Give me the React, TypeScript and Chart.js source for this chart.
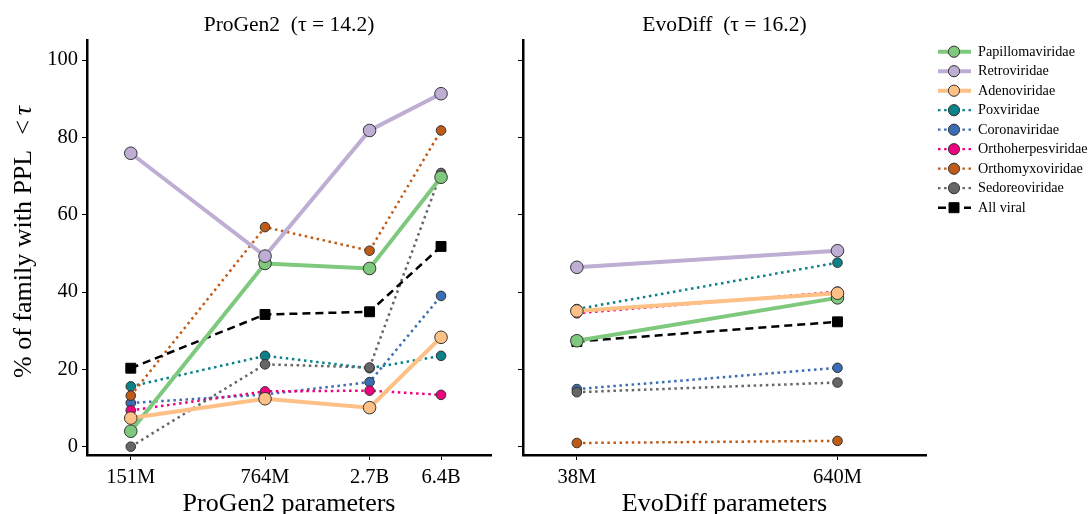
import React, { useEffect, useRef } from 'react';
import { Chart, registerables } from 'chart.js';
Chart.register(...registerables);

// ---------- data ----------
const families = [
  'Papillomaviridae', 'Retroviridae', 'Adenoviridae', 'Poxviridae', 'Coronaviridae',
  'Orthoherpesviridae', 'Orthomyxoviridae', 'Sedoreoviridae', 'All viral',
];
const familyColors = ['#7fc97f', '#beaed4', '#fdc086', '#0b8189', '#3a6db4', '#f0027f', '#bf5b17', '#666666', '#000000'];
const familyStyles = ['solid', 'solid', 'solid', 'dotted', 'dotted', 'dotted', 'dotted', 'dotted', 'dashed'];
const drawOrder = [2, 1, 0, 8, 7, 6, 5, 4, 3];

const progenParams = [1.51e8, 7.64e8, 2.7e9, 6.4e9];
const progenTickLabels = ['151M', '764M', '2.7B', '6.4B'];
const evodiffParams = [3.8e7, 6.4e8];
const evodiffTickLabels = ['38M', '640M'];
const yTicks = [0, 20, 40, 60, 80, 100];

const progenPapilloma = [4.0, 47.4, 46.1, 69.7];
const progenRetro = [75.9, 49.3, 81.8, 91.3];
const progenAdeno = [7.4, 12.4, 10.1, 28.3];
const progenPox = [15.6, 23.5, 20.3, 23.5];
const progenCorona = [11.3, 13.5, 16.7, 39.0];
const progenOrthoherpes = [9.4, 14.3, 14.5, 13.4];
const progenOrthomyxo = [13.2, 56.8, 50.7, 81.8];
const progenSedoreo = [0.0, 21.3, 20.5, 70.8];
const progenAllViral = [20.3, 34.2, 34.9, 51.8];

const evodiffPapilloma = [27.4, 38.5];
const evodiffRetro = [46.4, 50.7];
const evodiffAdeno = [35.1, 39.7];
const evodiffPox = [35.6, 47.6];
const evodiffCorona = [14.9, 20.4];
const evodiffOrthoherpes = [34.5, 40.1];
const evodiffOrthomyxo = [0.95, 1.5];
const evodiffSedoreo = [14.1, 16.6];
const evodiffAllViral = [27.2, 32.3];

const progenSeries = [progenPapilloma, progenRetro, progenAdeno, progenPox, progenCorona, progenOrthoherpes, progenOrthomyxo, progenSedoreo, progenAllViral];
const evodiffSeries = [evodiffPapilloma, evodiffRetro, evodiffAdeno, evodiffPox, evodiffCorona, evodiffOrthoherpes, evodiffOrthomyxo, evodiffSedoreo, evodiffAllViral];

// ---------- styling ----------
const FONT = '"Liberation Serif", "DejaVu Serif", serif';
const Y_MIN = -2.15;
const Y_MAX = 105.2;

function styleFor(i: number) {
  const st = familyStyles[i];
  if (st === 'solid') return { borderWidth: 4, borderDash: [] as number[], pointRadius: 6.3, pointStyle: 'circle', legendW: 4 };
  if (st === 'dotted') return { borderWidth: 2.5, borderDash: [2.5, 3.6], pointRadius: 4.8, pointStyle: 'circle', legendW: 2.2 };
  return { borderWidth: 2.5, borderDash: [8, 5], pointRadius: 7, pointStyle: 'rect', legendW: 2.5 };
}

function buildDatasets(params: number[], series: number[][]) {
  return series.map((vals, i) => {
    const s = styleFor(i);
    return {
      label: families[i],
      data: vals.map((v, j) => ({ x: params[j], y: v })),
      borderColor: familyColors[i],
      backgroundColor: familyColors[i],
      borderWidth: s.borderWidth,
      borderDash: s.borderDash,
      borderCapStyle: 'butt',
      tension: 0,
      pointRadius: s.pointRadius,
      pointHoverRadius: s.pointRadius,
      pointStyle: s.pointStyle,
      pointBackgroundColor: familyColors[i],
      pointBorderColor: i === 8 ? '#000' : '#333333',
      pointBorderWidth: 1,
      order: drawOrder[i],
      clip: false,
    };
  });
}

function drawYTitle(ctx: CanvasRenderingContext2D, cx: number, bottomY: number) {
  const parts = [
    { t: '% of family with PPL', f: `26px ${FONT}`, gap: 15 },
    { t: '<', f: `26px ${FONT}`, gap: 5 },
    { t: 'τ', f: `italic 26px ${FONT}`, gap: 0 },
  ];
  ctx.save();
  ctx.translate(cx, bottomY);
  ctx.rotate(-Math.PI / 2);
  let x = 0;
  ctx.textAlign = 'left';
  ctx.textBaseline = 'middle';
  ctx.fillStyle = '#000';
  parts.forEach((p) => { ctx.font = p.f; ctx.fillText(p.t, x, 0); x += ctx.measureText(p.t).width + p.gap; });
  ctx.restore();
}

function drawLegend(ctx: CanvasRenderingContext2D, offsetX: number) {
  ctx.save();
  families.forEach((name, i) => {
    const y = 51.7 + i * 19.5;
    const s = styleFor(i);
    const x0 = 938 - offsetX;
    const x1 = 971 - offsetX;
    const mx = 954 - offsetX;
    ctx.beginPath();
    ctx.strokeStyle = familyColors[i];
    ctx.lineWidth = s.legendW;
    ctx.lineCap = 'butt';
    ctx.setLineDash(s.borderDash);
    ctx.moveTo(x0, y);
    ctx.lineTo(x1, y);
    ctx.stroke();
    ctx.setLineDash([]);
    ctx.fillStyle = familyColors[i];
    ctx.strokeStyle = i === 8 ? '#000' : '#333333';
    ctx.lineWidth = 1;
    ctx.beginPath();
    if (s.pointStyle === 'rect') {
      ctx.rect(mx - 5, y - 5, 10, 10);
    } else {
      ctx.arc(mx, y, 5.6, 0, Math.PI * 2);
    }
    ctx.fill();
    ctx.stroke();
    ctx.fillStyle = '#000';
    ctx.font = `14.2px ${FONT}`;
    ctx.textAlign = 'left';
    ctx.textBaseline = 'middle';
    ctx.fillText(name, 978 - offsetX, y + 0.5);
  });
  ctx.restore();
}

function makeConfig(opts: {
  params: number[]; tickLabels: string[]; series: number[][];
  xMin: number; xMax: number; yAxisWidth: number; padRight: number;
  showYLabels: boolean; title: string; xTitle: string; offsetX: number; legend: boolean;
}) {
  const textPlugin = {
    id: 'panelTexts',
    afterDraw(chart: any) {
      const { ctx, chartArea } = chart;
      const cx = (chartArea.left + chartArea.right) / 2;
      ctx.save();
      ctx.fillStyle = '#000';
      ctx.textAlign = 'center';
      ctx.textBaseline = 'middle';
      ctx.font = `21.5px ${FONT}`;
      ctx.fillText(opts.title, cx, 25);
      ctx.font = `26px ${FONT}`;
      ctx.fillText(opts.xTitle, cx, 504);
      ctx.restore();
      if (opts.showYLabels) drawYTitle(ctx, 24, 378);
      if (opts.legend) drawLegend(ctx, opts.offsetX);
    },
  };
  return {
    type: 'line',
    data: { datasets: buildDatasets(opts.params, opts.series) },
    plugins: [textPlugin],
    options: {
      responsive: false,
      animation: false,
      devicePixelRatio: 1,
      layout: { padding: { left: 0, right: opts.padRight, top: 40, bottom: 0 } },
      plugins: { legend: { display: false }, title: { display: false }, tooltip: { enabled: false } },
      scales: {
        x: {
          type: 'logarithmic',
          min: opts.xMin,
          max: opts.xMax,
          afterBuildTicks: (s: any) => { s.ticks = opts.params.map((v) => ({ value: v })); },
          afterFit: (s: any) => { s.height = 59; },
          border: { display: true, color: '#000', width: 2.5 },
          grid: { display: true, drawOnChartArea: false, drawTicks: true, tickLength: 5, tickColor: '#000', tickWidth: 1 },
          ticks: {
            autoSkip: false, maxRotation: 0, minRotation: 0, padding: 5, color: '#000',
            font: { family: FONT, size: 20.5 },
            callback: (_v: any, i: number) => opts.tickLabels[i],
          },
        },
        y: {
          type: 'linear',
          min: Y_MIN,
          max: Y_MAX,
          afterBuildTicks: (s: any) => { s.ticks = yTicks.map((v) => ({ value: v })); },
          afterFit: (s: any) => { s.width = opts.yAxisWidth; },
          border: { display: true, color: '#000', width: 2.5 },
          grid: { display: true, drawOnChartArea: false, drawTicks: true, tickLength: 5, tickColor: '#000', tickWidth: 1 },
          ticks: {
            padding: 4, color: '#000',
            font: { family: FONT, size: 20.5 },
            callback: (v: any) => (opts.showYLabels ? String(v) : ''),
          },
        },
      },
    },
  };
}

function Panel(props: { left: number; width: number; cfg: any }) {
  const ref = useRef<HTMLCanvasElement | null>(null);
  useEffect(() => {
    if (!ref.current) return;
    const chart = new Chart(ref.current, props.cfg);
    return () => chart.destroy();
  }, []);
  return (
    <canvas
      ref={ref}
      width={props.width}
      height={514}
      style={{ position: 'absolute', left: props.left, top: 0, width: props.width, height: 514 }}
    />
  );
}

export default function App() {
  const leftCfg = makeConfig({
    params: progenParams, tickLabels: progenTickLabels, series: progenSeries,
    xMin: 8.9e7, xMax: 1.17e10, yAxisWidth: 87, padRight: 505 - 491,
    showYLabels: true, title: 'ProGen2  (τ = 14.2)', xTitle: 'ProGen2 parameters', offsetX: 0, legend: false,
  });
  const rightCfg = makeConfig({
    params: evodiffParams, tickLabels: evodiffTickLabels, series: evodiffSeries,
    xMin: 2.12e7, xMax: 1.67e9, yAxisWidth: 18, padRight: 587 - 421,
    showYLabels: false, title: 'EvoDiff  (τ = 16.2)', xTitle: 'EvoDiff parameters', offsetX: 505, legend: true,
  });
  return (
    <div style={{ position: 'fixed', left: 0, top: 0, width: 1092, height: 514, background: '#fff' }}>
      <Panel left={0} width={505} cfg={leftCfg} />
      <Panel left={505} width={587} cfg={rightCfg} />
    </div>
  );
}
